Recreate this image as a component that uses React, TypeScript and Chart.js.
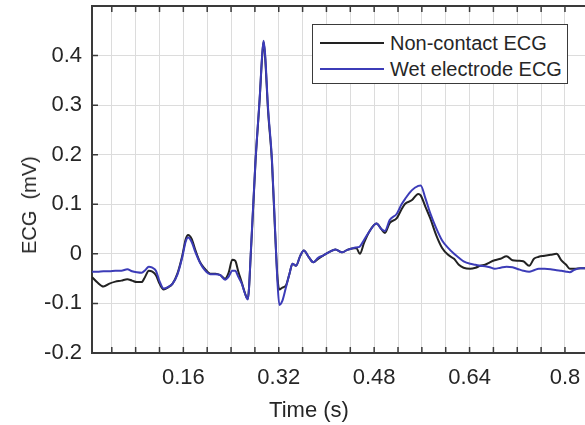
import React, { useEffect, useRef } from "react";
import { Chart, registerables } from "chart.js";

Chart.register(...registerables);

// ---- data ----
const timeS = [
  0.007, 0.016, 0.026, 0.036, 0.046, 0.056, 0.066, 0.074, 0.082, 0.09,
  0.096, 0.102, 0.108, 0.114, 0.12, 0.127, 0.134, 0.142, 0.15, 0.158,
  0.164, 0.168, 0.174, 0.18, 0.188, 0.196, 0.205, 0.214, 0.222, 0.23,
  0.236, 0.242, 0.247, 0.252, 0.258, 0.263, 0.268, 0.274, 0.281, 0.288,
  0.292, 0.2945, 0.297, 0.302, 0.3086, 0.314, 0.318, 0.321, 0.326, 0.332,
  0.338, 0.343, 0.349, 0.356, 0.362, 0.37, 0.378, 0.386, 0.395, 0.405,
  0.415, 0.426, 0.435, 0.443, 0.45, 0.456, 0.463, 0.473, 0.484, 0.492,
  0.498, 0.506, 0.518, 0.526, 0.532, 0.543, 0.554, 0.558, 0.566, 0.574,
  0.584, 0.594, 0.604, 0.614, 0.622, 0.63, 0.641, 0.65, 0.658, 0.666,
  0.674, 0.682, 0.692, 0.702, 0.712, 0.722, 0.73, 0.74, 0.748, 0.756,
  0.766, 0.776, 0.786, 0.794, 0.802, 0.808, 0.816, 0.826, 0.834,
];

const nonContactEcg = [
  -0.047, -0.058, -0.066, -0.06, -0.056, -0.054, -0.051, -0.054, -0.057, -0.057,
  -0.046, -0.034, -0.036, -0.043, -0.06, -0.072, -0.068, -0.06, -0.04, -0.005,
  0.03, 0.038, 0.03, 0.008, -0.017, -0.03, -0.04, -0.04, -0.043, -0.05,
  -0.038, -0.012, -0.014, -0.035, -0.058, -0.078, -0.091, 0.02, 0.186, 0.312,
  0.395, 0.428, 0.4, 0.29, 0.186, 0.04, -0.05, -0.072, -0.068, -0.064,
  -0.04, -0.02, -0.024, -0.004, 0.007, -0.006, -0.017, -0.01, -0.003, 0.004,
  0.009, 0.003, 0.008, 0.011, 0.012, 0.0, 0.022, 0.047, 0.061, 0.05,
  0.042, 0.062, 0.072, 0.09, 0.101, 0.108, 0.121, 0.118, 0.095, 0.072,
  0.038, 0.012, -0.002, -0.01, -0.022, -0.028, -0.03, -0.028, -0.024, -0.022,
  -0.017, -0.013, -0.01, -0.005, -0.013, -0.014, -0.015, -0.024, -0.01, -0.006,
  -0.004, -0.002, 0.0, -0.013, -0.022, -0.03, -0.03, -0.029, -0.029,
];

const wetElectrodeEcg = [
  -0.036, -0.036, -0.035, -0.035, -0.034, -0.034, -0.031, -0.035, -0.037, -0.038,
  -0.033, -0.026, -0.028, -0.034, -0.055, -0.07, -0.067, -0.06, -0.042, -0.008,
  0.025, 0.033, 0.024, 0.004, -0.018, -0.033, -0.041, -0.041, -0.043, -0.052,
  -0.046, -0.034, -0.034, -0.046, -0.06, -0.079, -0.092, 0.024, 0.188, 0.314,
  0.398, 0.43, 0.405, 0.295, 0.19, 0.045, -0.06, -0.103, -0.095, -0.068,
  -0.04, -0.02, -0.024, -0.004, 0.007, -0.006, -0.017, -0.008, -0.003, 0.004,
  0.009, 0.003, 0.008, 0.011, 0.013, 0.015, 0.028, 0.047, 0.061, 0.05,
  0.046, 0.068, 0.081, 0.1, 0.111, 0.128, 0.137, 0.138, 0.112, 0.082,
  0.052, 0.027, 0.012, 0.0, -0.008, -0.015, -0.02, -0.022, -0.024, -0.025,
  -0.027, -0.03, -0.028, -0.026, -0.027, -0.031, -0.034, -0.036, -0.033, -0.03,
  -0.03, -0.031, -0.033, -0.034, -0.036, -0.037, -0.032, -0.029, -0.029,
];

const seriesNames = ["Non-contact ECG", "Wet electrode ECG"];
const xGridValues = [0.04, 0.08, 0.12, 0.16, 0.2, 0.24, 0.28, 0.32, 0.36, 0.4, 0.44, 0.48, 0.52, 0.56, 0.6, 0.64, 0.68, 0.72, 0.76, 0.8];
const xLabelValues = [0.16, 0.32, 0.48, 0.64, 0.8];
const yTickValues = [-0.2, -0.1, 0, 0.1, 0.2, 0.3, 0.4];
const xTitle = "Time (s)";
const yTitle = "ECG  (mV)";

// ---- styles ----
const FONT = '"Liberation Sans", Arial, Helvetica, sans-serif';
const TEXT = "#262626";
const AXIS = "#3a3a3a";
const GRID = "#dcdcdc";
const BLACK = "#222222";
const BLUE = "#3c3cb8";

const fmt = (v: number) => String(Math.round(v * 100) / 100);
const near = (a: number, b: number) => Math.abs(a - b) < 1e-6;

const framePlugin = {
  id: "matlabFrame",
  beforeDatasetsDraw(chart: any) {
    const { ctx, chartArea, scales } = chart;
    const { left, right, top, bottom } = chartArea;
    ctx.save();
    ctx.strokeStyle = AXIS;
    ctx.lineWidth = 2;
    ctx.beginPath();
    ctx.moveTo(left, top);
    ctx.lineTo(right, top);
    ctx.stroke();
    ctx.lineWidth = 1.5;
    ctx.beginPath();
    xGridValues.forEach((v) => {
      const px = scales.x.getPixelForValue(v);
      ctx.moveTo(px, bottom);
      ctx.lineTo(px, bottom - 6);
      ctx.moveTo(px, top);
      ctx.lineTo(px, top + 6);
    });
    yTickValues.forEach((v) => {
      const py = scales.y.getPixelForValue(v);
      ctx.moveTo(left, py);
      ctx.lineTo(left + 6, py);
    });
    ctx.stroke();
    ctx.restore();
  },
};

export default function App() {
  const canvasRef = useRef<HTMLCanvasElement | null>(null);

  useEffect(() => {
    if (!canvasRef.current) return;
    const chart = new Chart(canvasRef.current, {
      type: "line",
      data: {
        datasets: [
          {
            label: seriesNames[0],
            data: timeS.map((t, i) => ({ x: t, y: nonContactEcg[i] })),
            borderColor: BLACK,
            borderWidth: 2,
            pointRadius: 0,
            cubicInterpolationMode: "monotone",
            fill: false,
            order: 1,
          },
          {
            label: seriesNames[1],
            data: timeS.map((t, i) => ({ x: t, y: wetElectrodeEcg[i] })),
            borderColor: BLUE,
            borderWidth: 2,
            pointRadius: 0,
            cubicInterpolationMode: "monotone",
            fill: false,
            order: 0,
          },
        ],
      },
      options: {
        responsive: false,
        animation: false,
        events: [],
        layout: { padding: { top: 6, right: 0, bottom: 0, left: 0 } },
        plugins: { legend: { display: false }, tooltip: { enabled: false } },
        scales: {
          x: {
            type: "linear",
            min: 0.0068,
            max: 0.8336,
            afterBuildTicks: (s: any) => {
              s.ticks = xGridValues.map((v) => ({ value: v }));
            },
            afterFit: (s: any) => {
              s.height = 72;
              s.paddingLeft = 0;
              s.paddingRight = 0;
            },
            grid: { color: GRID, lineWidth: 1, drawTicks: false },
            border: { display: true, color: AXIS, width: 2 },
            ticks: {
              color: TEXT,
              font: { family: FONT, size: 22 },
              padding: 12,
              maxRotation: 0,
              autoSkip: false,
              callback: (v: any) => (xLabelValues.some((l) => near(l, Number(v))) ? fmt(Number(v)) : ""),
            },
          },
          y: {
            type: "linear",
            min: -0.2,
            max: 0.5,
            afterBuildTicks: (s: any) => {
              s.ticks = yTickValues.map((v) => ({ value: v }));
            },
            afterFit: (s: any) => {
              s.width = 92;
              s.paddingTop = 0;
              s.paddingBottom = 0;
            },
            grid: { color: GRID, lineWidth: 1, drawTicks: false },
            border: { display: true, color: AXIS, width: 2 },
            ticks: {
              color: TEXT,
              font: { family: FONT, size: 22 },
              padding: 10,
              callback: (v: any) => fmt(Number(v)),
            },
          },
        },
      },
      plugins: [framePlugin],
    });
    return () => chart.destroy();
  }, []);

  const legendColors = [BLACK, BLUE];
  const legendRowCenters = [18, 44];

  return (
    <div
      style={{
        position: "fixed",
        left: 0,
        top: 0,
        width: 585,
        height: 425,
        background: "#ffffff",
        overflow: "hidden",
      }}
    >
      <canvas ref={canvasRef} width={585} height={425} style={{ display: "block" }} />
      <div
        style={{
          position: "absolute",
          left: 312,
          top: 24,
          width: 256,
          height: 60,
          boxSizing: "border-box",
          border: `1.5px solid ${AXIS}`,
          background: "#ffffff",
        }}
      >
        {seriesNames.map((name, i) => (
          <React.Fragment key={name}>
            <div
              style={{
                position: "absolute",
                left: 7,
                top: legendRowCenters[i] - 1,
                width: 64,
                height: 2,
                background: legendColors[i],
              }}
            />
            <div
              style={{
                position: "absolute",
                left: 77,
                top: legendRowCenters[i],
                transform: "translateY(-50%)",
                font: `20px ${FONT}`,
                lineHeight: 1,
                color: TEXT,
                whiteSpace: "nowrap",
              }}
            >
              {name}
            </div>
          </React.Fragment>
        ))}
      </div>
      <div
        style={{
          position: "absolute",
          left: 309,
          top: 410,
          transform: "translate(-50%, -50%)",
          font: `22px ${FONT}`,
          lineHeight: 1,
          color: TEXT,
          whiteSpace: "nowrap",
        }}
      >
        {xTitle}
      </div>
      <div
        style={{
          position: "absolute",
          left: 29,
          top: 205,
          transform: "translate(-50%, -50%) rotate(-90deg)",
          font: `20px ${FONT}`,
          lineHeight: 1,
          color: TEXT,
          whiteSpace: "pre",
        }}
      >
        {yTitle}
      </div>
    </div>
  );
}
